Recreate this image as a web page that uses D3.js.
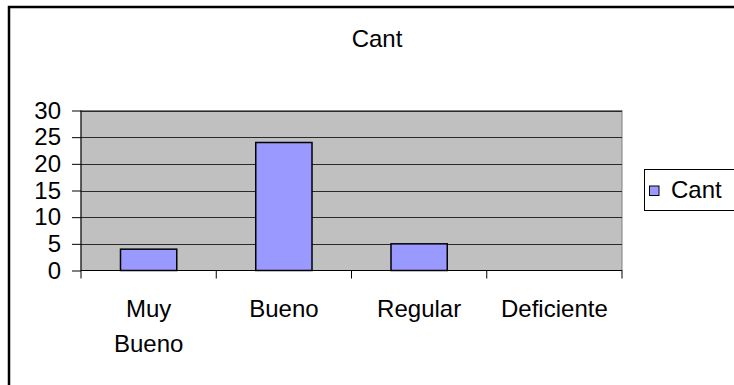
<!DOCTYPE html>
<html>
<head>
<meta charset="utf-8">
<script src="https://cdn.jsdelivr.net/npm/d3@7"></script>
<style>
  html, body { margin: 0; padding: 0; background: #fff; overflow: hidden; }
  svg { display: block; font-family: "Liberation Sans", Arial, sans-serif; }
</style>
</head>
<body>
<svg id="chart" width="734" height="385"></svg>
<script>
// Survey answers per rating
const categories = [["Muy", "Bueno"], ["Bueno"], ["Regular"], ["Deficiente"]];
const categoryKeys = ["Muy Bueno", "Bueno", "Regular", "Deficiente"];
const values = [4, 24, 5, 0];
const yTicks = [0, 5, 10, 15, 20, 25, 30];
const seriesName = "Cant";
const titleText = "Cant";

const svg = d3.select("#chart");

// outer chart frame (right and bottom edges fall outside the window)
svg.append("rect")
  .attr("x", 9).attr("y", 7)
  .attr("width", 760).attr("height", 400)
  .attr("fill", "#fff").attr("stroke", "#000").attr("stroke-width", 2.5);

const plot = { left: 81, right: 622, top: 110.5, bottom: 270.5 };

const x = d3.scaleBand()
  .domain(categoryKeys)
  .range([plot.left, plot.right])
  .padding(0);

const y = d3.scaleLinear()
  .domain([0, 30])
  .range([plot.bottom, plot.top]);

// plot area background
svg.append("rect")
  .attr("x", plot.left).attr("y", plot.top)
  .attr("width", plot.right - plot.left).attr("height", plot.bottom - plot.top)
  .attr("fill", "#c0c0c0").attr("stroke", "#808080").attr("stroke-width", 1);

// horizontal gridlines
svg.append("g")
  .selectAll("line")
  .data(yTicks.filter(t => t > 0))
  .join("line")
  .attr("x1", plot.left).attr("x2", plot.right)
  .attr("y1", d => Math.round(y(d)) + 0.5).attr("y2", d => Math.round(y(d)) + 0.5)
  .attr("stroke", "#2a2a2a").attr("stroke-width", 1);

// bars
const barRatio = 0.416;
svg.append("g")
  .selectAll("rect")
  .data(values.map((v, i) => ({ key: categoryKeys[i], v })).filter(d => d.v > 0))
  .join("rect")
  .attr("x", d => x(d.key) + x.bandwidth() * (1 - barRatio) / 2)
  .attr("width", x.bandwidth() * barRatio)
  .attr("y", d => y(d.v))
  .attr("height", d => y(0) - y(d.v))
  .attr("fill", "#9999ff")
  .attr("stroke", "#000").attr("stroke-width", 1.5);

// y axis
const yAxis = d3.axisLeft(y).tickValues(yTicks).tickSize(9).tickPadding(11);
const gy = svg.append("g")
  .attr("transform", `translate(${plot.left},0)`)
  .call(yAxis);
gy.select(".domain").attr("stroke", "#000").attr("d", `M0,${plot.top}V${plot.bottom}`);
gy.selectAll(".tick line").attr("stroke", "#000");
gy.selectAll(".tick text")
  .attr("fill", "#000")
  .style("font-size", "24px")
  .style("font-family", "Liberation Sans, Arial, sans-serif");

// x axis: ticks sit on the category boundaries
const xEdges = categoryKeys.map(k => x(k)).concat([plot.right]);
svg.append("line")
  .attr("x1", plot.left).attr("x2", plot.right)
  .attr("y1", plot.bottom).attr("y2", plot.bottom)
  .attr("stroke", "#000").attr("stroke-width", 1.2);
svg.append("g")
  .selectAll("line")
  .data(xEdges)
  .join("line")
  .attr("x1", d => d).attr("x2", d => d)
  .attr("y1", plot.bottom).attr("y2", plot.bottom + 8)
  .attr("stroke", "#000").attr("stroke-width", 1);

// category labels
const lab = svg.append("g")
  .selectAll("text")
  .data(categories.map((lines, i) => ({ lines, key: categoryKeys[i] })))
  .join("text")
  .attr("text-anchor", "middle")
  .attr("font-size", 24)
  .attr("fill", "#000")
  .attr("transform", d => `translate(${x(d.key) + x.bandwidth() / 2},316.5)`);
lab.selectAll("tspan")
  .data(d => d.lines)
  .join("tspan")
  .attr("x", 0)
  .attr("dy", (d, i) => i === 0 ? 0 : 35)
  .text(d => d);

// title
svg.append("text")
  .attr("x", 377).attr("y", 46.5)
  .attr("text-anchor", "middle")
  .attr("font-size", 24)
  .attr("fill", "#000")
  .text(titleText);

// legend
const legend = svg.append("g");
legend.append("rect")
  .attr("x", 644.5).attr("y", 169.5)
  .attr("width", 120).attr("height", 41)
  .attr("fill", "#fff").attr("stroke", "#000").attr("stroke-width", 1);
legend.append("rect")
  .attr("x", 649.5).attr("y", 186)
  .attr("width", 9.5).attr("height", 9.5)
  .attr("fill", "#9999ff").attr("stroke", "#000").attr("stroke-width", 1);
legend.append("text")
  .attr("x", 671).attr("y", 198)
  .attr("font-size", 24)
  .attr("fill", "#000")
  .text(seriesName);
</script>
</body>
</html>
